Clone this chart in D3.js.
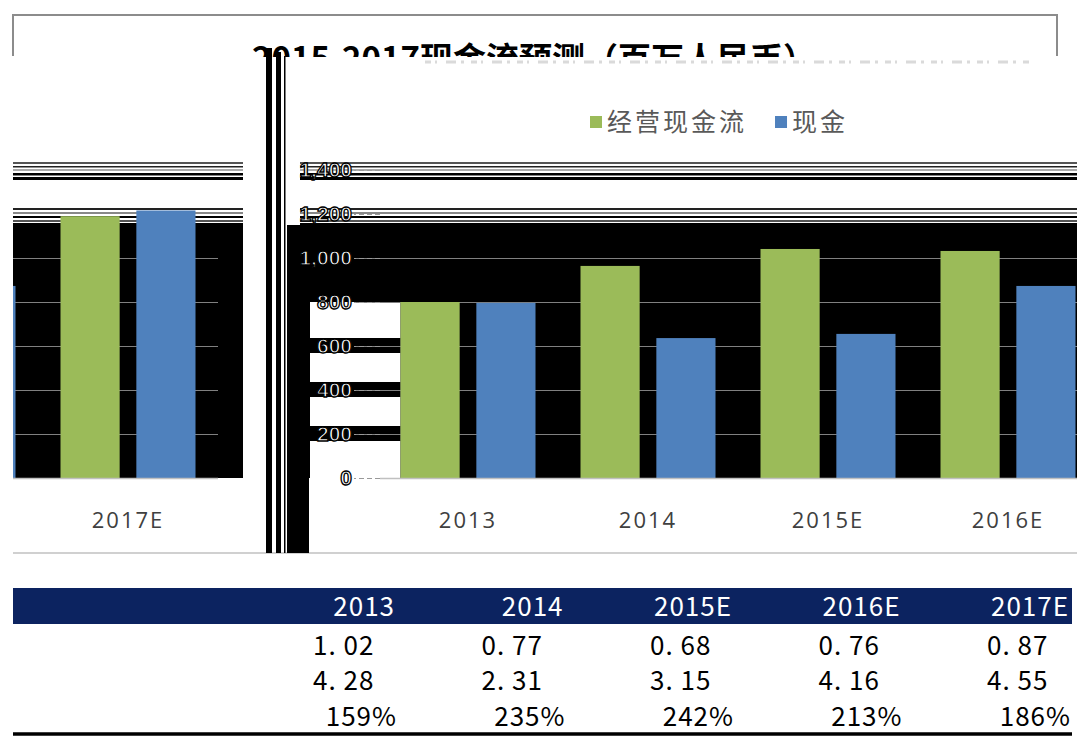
<!DOCTYPE html>
<html>
<head>
<meta charset="utf-8">
<script src="https://cdn.jsdelivr.net/npm/d3@7"></script>
<style>
  body { margin: 0; background: #fff; }
  svg { display: block; }
</style>
</head>
<body>
<div id="chart"></div>
<script>
// chart data
const categories = ["2013", "2014", "2015E", "2016E", "2017E"];
const seriesNames = ["经营现金流", "现金"];
const operatingCash = [800, 964, 1041, 1032, 1190];
const cashBalance = [796, 636, 655, 873, 1216];
const yTickValues = [0, 200, 400, 600, 800, 1000, 1200, 1400];
const titleText = "2015-2017现金流预测（百万人民币）";

// table under the chart
const tableHeader = ["2013", "2014", "2015E", "2016E", "2017E"];
const tableRow1 = ["1. 02", "0. 77", "0. 68", "0. 76", "0. 87"];
const tableRow2 = ["4. 28", "2. 31", "3. 15", "4. 16", "4. 55"];
const tableRow3 = ["159%", "235%", "242%", "213%", "186%"];

const W = 1077, H = 744;
const GREEN = "#9bbb59", BLUE = "#4f81bd", NAVY = "#0c2360";
const WRAP = 1060; // last category is drawn wrapped round to the left edge

const svg = d3.select("#chart").append("svg").attr("width", W).attr("height", H);
const defs = svg.append("defs");

function clip(id, x, y, w, h) {
  defs.append("clipPath").attr("id", id)
    .append("rect").attr("x", x).attr("y", y).attr("width", w).attr("height", h);
  return "url(#" + id + ")";
}

// scales
const y = d3.scaleLinear().domain([0, 1400]).range([478, 170]);
const x0 = d3.scaleBand().domain(categories).range([378, 1278])
  .paddingInner(0.25).paddingOuter(0.125);
const x1 = d3.scaleBand().domain(seriesNames).range([0, x0.bandwidth()]).paddingInner(0.22);
const color = d3.scaleOrdinal().domain(seriesNames).range([GREEN, BLUE]);

const groups = categories.map((c, i) => ({
  cat: c,
  values: [
    { s: seriesNames[0], v: operatingCash[i] },
    { s: seriesNames[1], v: cashBalance[i] }
  ]
}));

// outer frame
svg.append("path")
  .attr("d", "M13,56V15H1057V56")
  .attr("fill", "none").attr("stroke", "#8c8c8c").attr("stroke-width", 2);
svg.append("line")
  .attr("x1", 13).attr("x2", W).attr("y1", 553).attr("y2", 553)
  .attr("stroke", "#c0c0c0").attr("stroke-width", 1.5);

// title, cut off under its top half
svg.append("text")
  .attr("clip-path", clip("clipTitle", 0, 0, W, 57))
  .attr("x", 534).attr("y", 71)
  .attr("text-anchor", "middle")
  .attr("font-family", "'Noto Sans CJK SC', sans-serif")
  .attr("font-size", 33).attr("font-weight", "bold")
  .attr("fill", "#000")
  .text(titleText);

// faint broken streak under the title
svg.append("line")
  .attr("x1", 425).attr("x2", 1030).attr("y1", 62).attr("y2", 62)
  .attr("stroke", "#dadada").attr("stroke-width", 3)
  .attr("stroke-dasharray", "6,4,2,9,10,5,3,7");

// legend
const legend = svg.append("g").attr("transform", "translate(590,122)");
let lx = 0;
seriesNames.forEach(name => {
  const item = legend.append("g").attr("transform", `translate(${lx},0)`);
  item.append("rect").attr("x", 0).attr("y", -6).attr("width", 12).attr("height", 12)
    .attr("fill", color(name));
  const t = item.append("text").attr("x", 17).attr("y", 9)
    .attr("font-family", "'Noto Sans CJK SC', sans-serif")
    .attr("font-size", 25).attr("letter-spacing", 3).attr("fill", "#595959")
    .text(name);
  lx += 17 + t.node().getComputedTextLength() + 28;
});

// glitch bars left of the value axis
const glitch = svg.append("g").attr("fill", "#000");
glitch.append("rect").attr("x", 266).attr("y", 48).attr("width", 6).attr("height", 505);
glitch.append("rect").attr("x", 276).attr("y", 52).attr("width", 5).attr("height", 501);
glitch.append("rect").attr("x", 284).attr("y", 56).attr("width", 1.5).attr("height", 497);
glitch.append("rect").attr("x", 287).attr("y", y(0)).attr("width", 22).attr("height", 553 - y(0));

// streaky bands around the top gridlines
const stripes1400 = [
  { o: -8, h: 2, c: "#555" }, { o: -4, h: 1.5, c: "#222" }, { o: -1, h: 2, c: "#aaa" },
  { o: 3, h: 2.5, c: "#000" }, { o: 7, h: 3, c: "#000" }
];
const stripes1200 = [
  { o: -6, h: 2, c: "#222" }, { o: -2, h: 2, c: "#888" }, { o: 2, h: 2, c: "#000" },
  { o: 6, h: 2, c: "#555" }, { o: 9, h: 2, c: "#000" }
];

function drawStripes(g, xa, xb) {
  [[1400, stripes1400], [1200, stripes1200]].forEach(([v, list]) => {
    g.selectAll(null).data(list).enter().append("rect")
      .attr("x", xa).attr("width", xb - xa)
      .attr("y", d => y(v) + d.o).attr("height", d => d.h)
      .attr("fill", d => d.c);
  });
}

function drawBars(g) {
  const cat = g.selectAll("g.cat").data(groups).enter().append("g")
    .attr("class", "cat")
    .attr("transform", d => `translate(${x0(d.cat)},0)`);
  cat.selectAll("rect").data(d => d.values).enter().append("rect")
    .attr("x", d => x1(d.s))
    .attr("width", x1.bandwidth())
    .attr("y", d => y(d.v))
    .attr("height", d => y(0) - y(d.v))
    .attr("fill", d => color(d.s));
}

function drawGrid(g, xa, xb) {
  g.selectAll(null).data(yTickValues.filter(v => v > 0 && v < 1200)).enter().append("line")
    .attr("x1", xa).attr("x2", xb)
    .attr("y1", d => y(d) + 0.5).attr("y2", d => y(d) + 0.5)
    .attr("stroke", "#808080").attr("stroke-width", 1);
}

// only the labels that land inside the visible strip are drawn
function drawCategoryAxis(g, shown) {
  const ax = g.append("g").attr("transform", `translate(0,${y(0)})`)
    .call(d3.axisBottom(x0).tickValues(shown).tickSize(0).tickPadding(34));
  ax.select(".domain").remove();
  ax.selectAll("text")
    .attr("font-family", "'Open Sans', sans-serif")
    .attr("font-size", 22).attr("fill", "#404040")
    .attr("letter-spacing", 2);
}

// ---- main plot area
const main = svg.append("g").attr("clip-path", clip("clipMain", 283, 0, W - 283, H));
main.append("rect").attr("x", 287).attr("width", W - 287)
  .attr("y", y(1150)).attr("height", y(0) - y(1150)).attr("fill", "#000");
main.append("rect").attr("x", 310).attr("width", x0(categories[0]) - 310)
  .attr("y", y(800)).attr("height", y(0) - y(800)).attr("fill", "#fff");
main.selectAll(null).data([200, 400, 600]).enter().append("rect")
  .attr("x", 310).attr("width", x0(categories[0]) - 310)
  .attr("y", d => y(d) - 8).attr("height", 15).attr("fill", "#000");
drawGrid(main, 355, W);
drawStripes(main, 300, W);
drawBars(main);
main.append("line").attr("x1", 380).attr("x2", W).attr("y1", y(0) + 0.5).attr("y2", y(0) + 0.5)
  .attr("stroke", "#c0c0c0").attr("stroke-width", 1.5);
drawCategoryAxis(main, categories.slice(0, 4));

const yAxis = main.append("g").attr("transform", "translate(380,0)")
  .call(d3.axisLeft(y).tickValues(yTickValues).tickFormat(d3.format(",")).tickSize(26).tickPadding(2));
yAxis.select(".domain").remove();
yAxis.selectAll("line").attr("stroke", "#999").attr("stroke-dasharray", "5,3");
yAxis.selectAll("text")
  .attr("font-family", "'Liberation Sans', sans-serif")
  .attr("font-size", 21).attr("font-weight", "bold")
  .attr("fill", "#fff").attr("stroke", "#000").attr("stroke-width", 1.3);

// ---- wrapped strip on the left holding the last category
const left = svg.append("g").attr("clip-path", clip("clipLeft", 13, 0, 230, H));
left.append("rect").attr("x", 13).attr("width", 230)
  .attr("y", y(1150)).attr("height", y(0) - y(1150)).attr("fill", "#000");
drawGrid(left, 13, 218);
drawStripes(left, 13, 243);
const shifted = left.append("g").attr("transform", `translate(${-WRAP},0)`);
drawBars(shifted);
left.append("line").attr("x1", 13).attr("x2", 218).attr("y1", y(0) + 0.5).attr("y2", y(0) + 0.5)
  .attr("stroke", "#c0c0c0").attr("stroke-width", 1.5);
drawCategoryAxis(shifted, categories.slice(4));

// ---- table
const col = d3.scaleLinear().domain([0, 4]).range([313, 987]);
const table = svg.append("g")
  .attr("font-family", "'Noto Sans CJK SC', sans-serif")
  .attr("font-size", 26).attr("letter-spacing", 1);

table.append("rect").attr("x", 13).attr("y", 588).attr("width", 1059).attr("height", 36)
  .attr("fill", NAVY);
table.selectAll(null).data(tableHeader).enter().append("text")
  .attr("x", (d, i) => col(i) + 82).attr("y", 616)
  .attr("text-anchor", "end").attr("fill", "#fff")
  .text(d => d);
table.selectAll(null).data(tableRow1).enter().append("text")
  .attr("x", (d, i) => col(i)).attr("y", 655).attr("fill", "#000")
  .text(d => d);
table.selectAll(null).data(tableRow2).enter().append("text")
  .attr("x", (d, i) => col(i)).attr("y", 690).attr("fill", "#000")
  .text(d => d);
table.selectAll(null).data(tableRow3).enter().append("text")
  .attr("x", (d, i) => col(i) + 84).attr("y", 726)
  .attr("text-anchor", "end").attr("fill", "#000")
  .text(d => d);
table.append("line").attr("x1", 13).attr("x2", 1072).attr("y1", 734).attr("y2", 734)
  .attr("stroke", "#000").attr("stroke-width", 3.5);
</script>
</body>
</html>
